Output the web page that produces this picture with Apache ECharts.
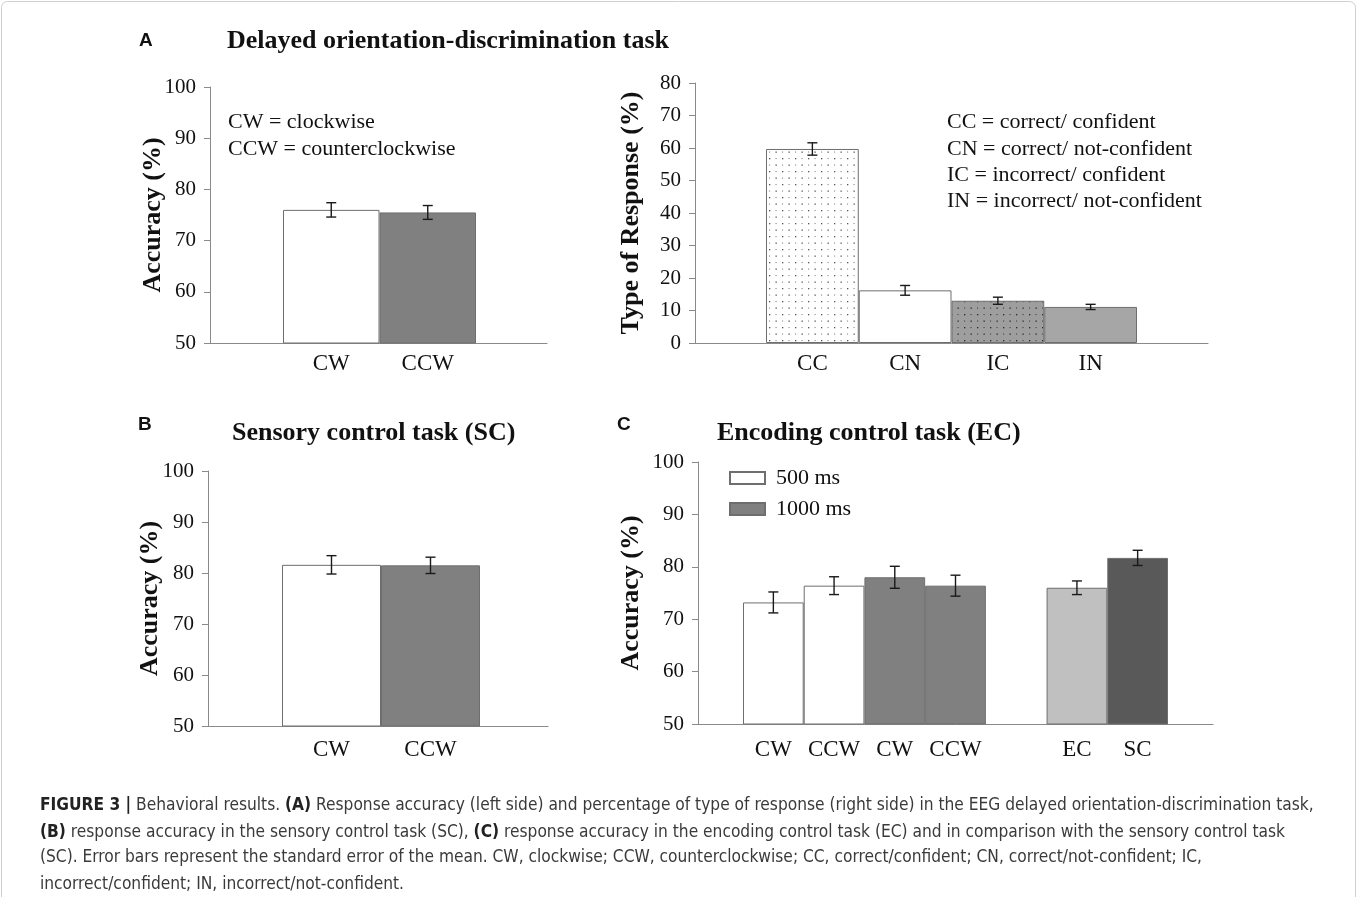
<!DOCTYPE html>
<html><head><meta charset="utf-8">
<script src="https://cdn.jsdelivr.net/npm/echarts@6/dist/echarts.min.js"></script>
<style>html,body{margin:0;padding:0;background:#fff}#c{width:1357px;height:897px}</style>
</head><body><div id="c"></div>
<script>
// ---------- data ----------
const accCategories = ['CW', 'CCW'];
const accMean = [76.0, 75.5];
const accSem = [1.4, 1.35];

const respCategories = ['CC', 'CN', 'IC', 'IN'];
const respMean = [59.7, 16.2, 13.0, 11.1];
const respSem = [1.9, 1.5, 1.1, 0.8];

const scCategories = ['CW', 'CCW'];
const scMean = [81.6, 81.5];
const scSem = [1.8, 1.6];

const ecCategories = ['CW', 'CCW', 'CW', 'CCW', '', 'EC', 'SC'];
const ec500Mean = [73.2, 76.4];
const ec500Sem = [2.0, 1.7];
const ec1000Mean = [78.0, 76.4];
const ec1000Sem = [2.1, 2.0];
const cmpMean = [76.0, 81.7];
const cmpSem = [1.3, 1.45];

const accTicks = { min: 50, max: 100, interval: 10 };
const respTicks = { min: 0, max: 80, interval: 10 };

// ---------- styles ----------
const SERIF = 'Liberation Serif, Times New Roman, serif';
const TXT = '#111';
const AXC = '#8a8a8a';
const BORDER = '#6e6e6e';

function dotPattern(bg, dark, light) {
  const c = document.createElement('canvas');
  c.width = 13; c.height = 13;
  const g = c.getContext('2d');
  g.fillStyle = bg; g.fillRect(0, 0, 13, 13);
  g.fillStyle = dark; g.fillRect(2, 2, 1.3, 1.3); g.fillRect(8.5, 8.5, 1.3, 1.3);
  g.fillStyle = light; g.fillRect(8.5, 2, 1.1, 1.1); g.fillRect(2, 8.5, 1.1, 1.1);
  return { image: c, repeat: 'repeat' };
}
const accColors = ['#ffffff', '#808080'];
const respColors = [dotPattern('#ffffff', '#555', '#888'), '#ffffff', dotPattern('#9e9e9e', '#2a2a2a', '#444'), '#a6a6a6'];
const cmpColors = ['#c0c0c0', '#595959'];

// ---------- helpers ----------
const grids = [
  { left: 210, top: 87, width: 337, height: 256 },   // 0 A-left frame
  { left: 283, top: 87, width: 193, height: 256 },   // 1 A-left bars
  { left: 695, top: 83, width: 513, height: 260 },   // 2 A-right frame
  { left: 766, top: 83, width: 371, height: 260 },   // 3 A-right bars
  { left: 208, top: 471, width: 340, height: 255 },  // 4 B frame
  { left: 282, top: 471, width: 198, height: 255 },  // 5 B bars
  { left: 698, top: 462, width: 515, height: 262 },  // 6 C frame
  { left: 743, top: 462, width: 425, height: 262 }   // 7 C bars
];

function frameX(gi) {
  return { gridIndex: gi, type: 'category', data: [''], axisLine: { show: true, onZero: false, lineStyle: { color: AXC, width: 1 } },
    axisTick: { show: false }, axisLabel: { show: false }, splitLine: { show: false } };
}
function frameY(gi, t, name, gap) {
  return { gridIndex: gi, type: 'value', min: t.min, max: t.max, interval: t.interval,
    axisLine: { show: true, lineStyle: { color: AXC, width: 1 } },
    axisTick: { show: true, length: 6, lineStyle: { color: AXC } },
    axisLabel: { fontFamily: SERIF, fontSize: 21, color: TXT, margin: 14 },
    splitLine: { show: false },
    name: name, nameLocation: 'middle', nameRotate: 90, nameGap: gap, nameMoveOverlap: false,
    nameTextStyle: { fontFamily: SERIF, fontWeight: 'bold', fontSize: 26, color: TXT } };
}
function barX(gi, cats, margin) {
  return { gridIndex: gi, type: 'category', data: cats, axisLine: { show: false }, axisTick: { show: false },
    axisLabel: { fontFamily: SERIF, fontSize: 23, color: TXT, margin: margin, interval: 0 }, splitLine: { show: false } };
}
function barY(gi, t) {
  return { gridIndex: gi, type: 'value', min: t.min, max: t.max, interval: t.interval, show: false, splitLine: { show: false } };
}
function coloredItems(vals, colors) {
  return vals.map((v, i) => ({ value: v, itemStyle: { color: colors[i] } }));
}
function errSeries(ai, idx, means, sems) {
  return {
    type: 'custom', xAxisIndex: ai, yAxisIndex: ai, z: 10, silent: true,
    data: means.map((m, i) => [idx[i], m, sems[i]]),
    renderItem: function (params, api) {
      const x = api.value(0), m = api.value(1), e = api.value(2);
      const t = api.coord([x, m + e]), b = api.coord([x, m - e]);
      const hw = 5, st = { stroke: '#1a1a1a', lineWidth: 1.4 };
      return { type: 'group', children: [
        { type: 'line', shape: { x1: t[0], y1: t[1], x2: b[0], y2: b[1] }, style: st },
        { type: 'line', shape: { x1: t[0] - hw, y1: t[1], x2: t[0] + hw, y2: t[1] }, style: st },
        { type: 'line', shape: { x1: b[0] - hw, y1: b[1], x2: b[0] + hw, y2: b[1] }, style: st }
      ] };
    }
  };
}
const barBase = { type: 'bar', barCategoryGap: '0%', itemStyle: { borderColor: BORDER, borderWidth: 1 }, silent: true };

const ecIdx500 = [0, 1], ecIdx1000 = [2, 3], ecIdxCmp = [5, 6];
function spread(idx, vals) {
  return ecCategories.map((c, i) => { const k = idx.indexOf(i); return k >= 0 ? vals[k] : '-'; });
}

const titleStyle = { fontFamily: SERIF, fontWeight: 'bold', fontSize: 26, color: TXT };
const letterStyle = { fontFamily: 'Liberation Sans, Arial, sans-serif', fontWeight: 'bold', fontSize: 19, color: '#111' };
const CAPF = 'Liberation Sans Narrow, DejaVu Sans Condensed, Arial Narrow, sans-serif';

function capLine(y, text) {
  return { type: 'text', x: 40, y: y, silent: true,
    style: { text: text, fontFamily: CAPF, fontSize: 17.2, fill: '#3a3a3a', verticalAlign: 'middle', align: 'left',
      rich: { b: { fontFamily: CAPF, fontSize: 17.2, fontWeight: 'bold', fill: '#222' } } } };
}
function note(x, y, text) {
  return { type: 'text', x: x, y: y, silent: true,
    style: { text: text, fontFamily: SERIF, fontSize: 22, fill: TXT, verticalAlign: 'middle', align: 'left' } };
}

const option = {
  animation: false,
  backgroundColor: '#fff',
  grid: grids,
  title: [
    { text: 'A', left: 139, top: 31, padding: 0, textStyle: letterStyle },
    { text: 'B', left: 138, top: 415, padding: 0, textStyle: letterStyle },
    { text: 'C', left: 617, top: 415, padding: 0, textStyle: letterStyle },
    { text: 'Delayed orientation-discrimination task', left: 227, top: 28, padding: 0, textStyle: titleStyle },
    { text: 'Sensory control task (SC)', left: 232, top: 420, padding: 0, textStyle: titleStyle },
    { text: 'Encoding control task (EC)', left: 717, top: 420, padding: 0, textStyle: titleStyle }
  ],
  legend: {
    data: ['500 ms', '1000 ms'], orient: 'vertical', left: 724, top: 462, icon: 'rect',
    itemWidth: 35, itemHeight: 12, itemGap: 9, selectedMode: false,
    textStyle: { fontFamily: SERIF, fontSize: 22, color: TXT, padding: [0, 0, 0, 6] }
  },
  xAxis: [frameX(0), barX(1, accCategories, 9), frameX(2), barX(3, respCategories, 9),
          frameX(4), barX(5, scCategories, 12), frameX(6), barX(7, ecCategories, 14)],
  yAxis: [frameY(0, accTicks, 'Accuracy (%)', 44), barY(1, accTicks),
          frameY(2, respTicks, 'Type of Response (%)', 51), barY(3, respTicks),
          frameY(4, accTicks, 'Accuracy (%)', 45), barY(5, accTicks),
          frameY(6, accTicks, 'Accuracy (%)', 54), barY(7, accTicks)],
  series: [
    Object.assign({}, barBase, { xAxisIndex: 1, yAxisIndex: 1, data: coloredItems(accMean, accColors) }),
    errSeries(1, [0, 1], accMean, accSem),
    Object.assign({}, barBase, { xAxisIndex: 3, yAxisIndex: 3, data: coloredItems(respMean, respColors) }),
    errSeries(3, [0, 1, 2, 3], respMean, respSem),
    Object.assign({}, barBase, { xAxisIndex: 5, yAxisIndex: 5, data: coloredItems(scMean, accColors) }),
    errSeries(5, [0, 1], scMean, scSem),
    Object.assign({}, barBase, { name: '500 ms', xAxisIndex: 7, yAxisIndex: 7, barGap: '-100%',
      itemStyle: { color: '#ffffff', borderColor: BORDER, borderWidth: 1 }, data: spread(ecIdx500, ec500Mean) }),
    Object.assign({}, barBase, { name: '1000 ms', xAxisIndex: 7, yAxisIndex: 7, barGap: '-100%',
      itemStyle: { color: '#808080', borderColor: BORDER, borderWidth: 1 }, data: spread(ecIdx1000, ec1000Mean) }),
    Object.assign({}, barBase, { name: 'comparison', xAxisIndex: 7, yAxisIndex: 7, barGap: '-100%',
      data: spread(ecIdxCmp, cmpMean).map((v, i) => v === '-' ? '-' : { value: v, itemStyle: { color: cmpColors[ecIdxCmp.indexOf(i)] } }) }),
    errSeries(7, ecIdx500, ec500Mean, ec500Sem),
    errSeries(7, ecIdx1000, ec1000Mean, ec1000Sem),
    errSeries(7, ecIdxCmp, cmpMean, cmpSem)
  ],
  graphic: [
    { type: 'rect', silent: true, shape: { x: 1.5, y: 1.5, width: 1354, height: 920, r: 6 }, style: { fill: 'none', stroke: '#d0d0d0', lineWidth: 1 } },
    note(228, 122, 'CW = clockwise'),
    note(228, 149, 'CCW = counterclockwise'),
    note(947, 122, 'CC = correct/ confident'),
    note(947, 149, 'CN = correct/ not-confident'),
    note(947, 175, 'IC = incorrect/ confident'),
    note(947, 201, 'IN = incorrect/ not-confident'),
    capLine(806, '{b|FIGURE 3 |} Behavioral results. {b|(A)} Response accuracy (left side) and percentage of type of response (right side) in the EEG delayed orientation-discrimination task,'),
    capLine(833, '{b|(B)} response accuracy in the sensory control task (SC), {b|(C)} response accuracy in the encoding control task (EC) and in comparison with the sensory control task'),
    capLine(858, '(SC). Error bars represent the standard error of the mean. CW, clockwise; CCW, counterclockwise; CC, correct/confident; CN, correct/not-confident; IC,'),
    capLine(885, 'incorrect/confident; IN, incorrect/not-confident.')
  ]
};
const chart = echarts.init(document.getElementById('c'), null, { renderer: 'canvas' });
chart.setOption(option);
</script>
</body></html>
